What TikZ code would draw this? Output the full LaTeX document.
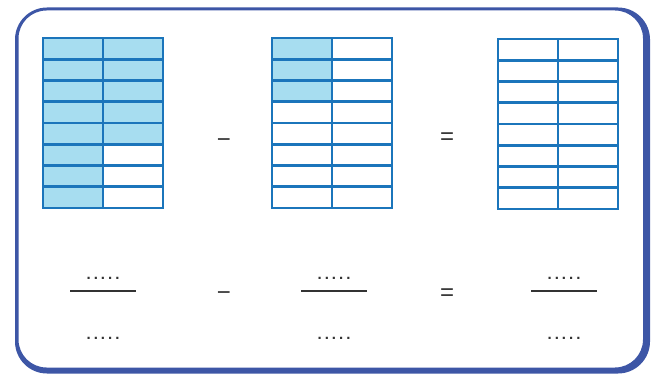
\documentclass[tikz,border=0pt]{standalone}
\usepackage{fontspec}
\setmainfont{Liberation Sans}
\definecolor{frameblue}{HTML}{3D56A6}
\definecolor{gridblue}{HTML}{1B75BB}
\definecolor{cellfill}{HTML}{A7DDF0}
\definecolor{ink}{HTML}{333333}
\newcommand{\blankdots}{.\kern3pt.\kern3pt.\kern3pt.\kern3pt.}
\begin{document}
\begin{tikzpicture}[x=1pt,y=-1pt,
  gridline/.style={draw=gridblue,line width=2.6pt},
  dots/.style={font=\bfseries\fontsize{15}{15}\selectfont,text=ink,anchor=base,inner sep=0pt},
  opsym/.style={font=\fontsize{24}{24}\selectfont,text=ink,inner sep=0pt,anchor=base},
  fracline/.style={draw=ink,line width=2pt}]
\useasboundingbox (0,0) rectangle (652,374);
% frame with thicker right/bottom edge
\fill[frameblue,even odd rule]
  [rounded corners=32pt] (15,7.5) rectangle (650,373.5)
  [rounded corners=28pt] (18.5,10.5) rectangle (643,367.5);
% grid 1
\foreach \r in {0,...,7} {
  \fill[cellfill] (43,{38+\r*21.25}) rectangle (103,{38+(\r+1)*21.25});
}
\foreach \r in {0,...,4} {
  \fill[cellfill] (103,{38+\r*21.25}) rectangle (163,{38+(\r+1)*21.25});
}
% grid 2
\foreach \r in {0,...,2} {
  \fill[cellfill] (272,{38+\r*21.25}) rectangle (332,{38+(\r+1)*21.25});
}
\foreach \gx/\gy in {43/38, 272/38, 498/39} {
  \foreach \r in {1,...,7} {
    \draw[gridline] (\gx,{\gy+\r*21.25}) -- ({\gx+120},{\gy+\r*21.25});
  }
  \draw[gridline] ({\gx+60},\gy) -- ({\gx+60},{\gy+170});
  \draw[gridline] (\gx,\gy) rectangle ({\gx+120},{\gy+170});
}
% operators (baseline placed so the bars sit at the reference heights)
\node[opsym] (m1) at (224,148) {−};
\node[opsym] (e1) at (447,145) {=};
\node[opsym] (m2) at (224,300) {−};
\node[opsym] (e2) at (447,300) {=};
% fractions
\foreach \cx/\nm in {103/a, 334/b, 564/c} {
  \node[dots] (num\nm) at (\cx,279.5) {\blankdots};
  \node[dots] (den\nm) at (\cx,339.5) {\blankdots};
  \draw[fracline] ({\cx-33},291.3) -- ({\cx+33},291.3);
}
\end{tikzpicture}
\end{document}
